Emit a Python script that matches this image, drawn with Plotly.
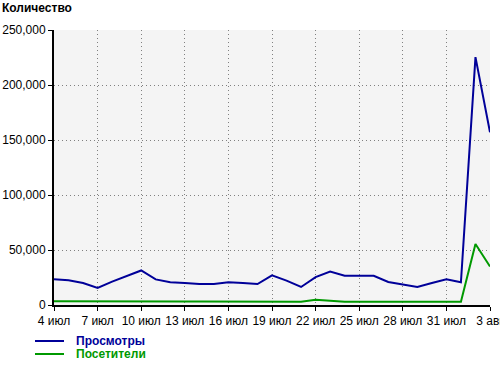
import plotly.graph_objects as go

# Daily figures, 4 July – 3 August
dates = [
    "2023-07-04", "2023-07-05", "2023-07-06", "2023-07-07", "2023-07-08",
    "2023-07-09", "2023-07-10", "2023-07-11", "2023-07-12", "2023-07-13",
    "2023-07-14", "2023-07-15", "2023-07-16", "2023-07-17", "2023-07-18",
    "2023-07-19", "2023-07-20", "2023-07-21", "2023-07-22", "2023-07-23",
    "2023-07-24", "2023-07-25", "2023-07-26", "2023-07-27", "2023-07-28",
    "2023-07-29", "2023-07-30", "2023-07-31", "2023-08-01", "2023-08-02",
    "2023-08-03",
]
views = [
    23300, 22400, 20000, 15500, 21300, 26000, 31400, 23300, 20600, 20000,
    19100, 19100, 20600, 20000, 19100, 26900, 22200, 16400, 25400, 30500,
    26600, 26600, 26600, 20900, 18600, 16400, 20000, 23300, 20600, 225300,
    157100,
]
visitors = [
    3400, 3300, 3300, 3200, 3200, 3200, 3200, 3200, 3200, 3100,
    3100, 3100, 3100, 3100, 3100, 3100, 3100, 3000, 4800, 3800,
    2900, 2900, 2900, 2900, 2900, 2900, 2900, 2900, 2900, 55400,
    35000,
]

tick_dates = [
    "2023-07-04", "2023-07-07", "2023-07-10", "2023-07-13", "2023-07-16",
    "2023-07-19", "2023-07-22", "2023-07-25", "2023-07-28", "2023-07-31",
    "2023-08-03",
]
tick_labels = [
    "4 июл", "7 июл", "10 июл", "13 июл", "16 июл", "19 июл",
    "22 июл", "25 июл", "28 июл", "31 июл", "3 авг",
]
y_ticks = [0, 50000, 100000, 150000, 200000, 250000]

series_names = ["Просмотры", "Посетители"]
series_colors = ["#000099", "#009900"]

FONT = "Liberation Sans, Arial, sans-serif"

fig = go.Figure()
for name, vals, color in zip(series_names, [views, visitors], series_colors):
    fig.add_trace(go.Scatter(
        x=dates, y=vals, mode="lines", name=name,
        line=dict(color=color, width=2),
        hoverinfo="skip",
    ))

fig.update_layout(
    width=500, height=366,
    margin=dict(l=54, r=10, t=30, b=61),
    paper_bgcolor="white",
    plot_bgcolor="#f4f4f4",
    showlegend=False,
    font=dict(family=FONT, size=12, color="black"),
    title=dict(
        text="<b>Количество</b>",
        x=2 / 500, xanchor="left", xref="container",
        y=1 - 4 / 366, yanchor="top", yref="container",
        font=dict(family=FONT, size=12, color="black"),
    ),
)

fig.update_xaxes(
    range=[dates[0], dates[-1]],
    tickvals=tick_dates, ticktext=tick_labels,
    ticks="outside", ticklen=4, tickcolor="black", tickwidth=1,
    showline=True, linecolor="black", linewidth=2,
    showgrid=True, gridcolor="#808080", gridwidth=1, griddash="1px,3px",
    zeroline=False, automargin=False, ticklabeloverflow="allow",
    tickfont=dict(family=FONT, size=12, color="black"),
)
fig.update_yaxes(
    range=[0, 250000],
    tickvals=y_ticks, tickformat=",d",
    ticks="outside", ticklen=4, tickcolor="black", tickwidth=1,
    showline=True, linecolor="black", linewidth=2,
    showgrid=True, gridcolor="#808080", gridwidth=1, griddash="1px,3px",
    zeroline=False, automargin=False, ticklabeloverflow="allow",
    tickfont=dict(family=FONT, size=12, color="black"),
)

# Legend below the plot: short line sample plus bold coloured label
plot_left, plot_w, plot_bottom, plot_h = 54, 436, 305, 275
legend_rows = [341, 354]
for name, color, py in zip(series_names, series_colors, legend_rows):
    yp = (plot_bottom - py) / plot_h
    fig.add_shape(
        type="line", xref="paper", yref="paper",
        x0=(35 - plot_left) / plot_w, x1=(64 - plot_left) / plot_w,
        y0=yp, y1=yp, line=dict(color=color, width=2),
    )
    fig.add_annotation(
        xref="paper", yref="paper",
        x=(74 - plot_left) / plot_w, y=yp,
        xanchor="left", yanchor="middle", showarrow=False,
        text=f"<b>{name}</b>",
        font=dict(family=FONT, size=12, color=color),
    )

fig.write_html("out.html")
